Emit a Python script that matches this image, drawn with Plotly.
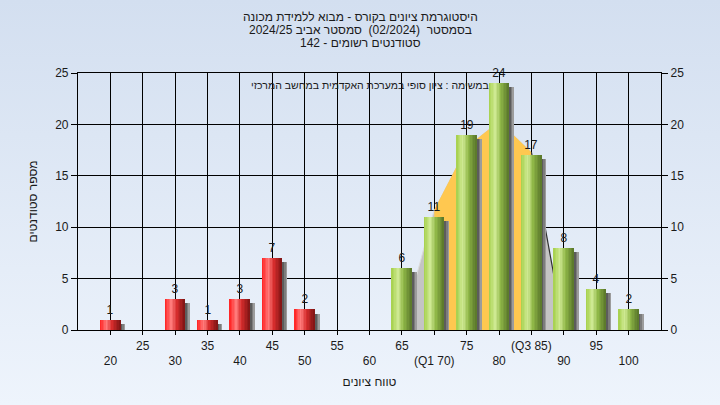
import base64
import numpy as np
import plotly.graph_objects as go

# ---------------- data ----------------
categories = [20, 25, 30, 35, 40, 45, 50, 55, 60, 65, 70, 75, 80, 85, 90, 95, 100]
counts = [1, 0, 3, 1, 3, 7, 2, 0, 0, 6, 11, 19, 24, 17, 8, 4, 2]
tick_labels = ['20', '25', '30', '35', '40', '45', '50', '55', '60', '65',
               '(Q1 70)', '75', '80', '(Q3 85)', '90', '95', '100']
curve_x = [65, 70, 75, 80, 85, 90]
curve_y = [0, 11.7, 17.8, 20.3, 17.3, 0]
q1, q3 = 70, 85
pass_mark = 55

title_lines = ["היסטוגרמת ציונים בקורס - מבוא ללמידת מכונה",
               "בסמסטר  (02/2024)  סמסטר אביב 2024/25",
               "סטודנטים רשומים - 142"]
note_text = "במשימה : ציון סופי במערכת האקדמית במחשב המרכזי"
x_title = "טווח ציונים"
y_title = "מספר סטודנטים"

FONT = "Liberation Sans, Arial, DejaVu Sans, sans-serif"
TXT = "#1a1a1a"

W_PX, H_PX = 720, 405
ML, MR, MT, MB = 78, 59, 73, 75
pw, ph = W_PX - ML - MR, H_PX - MT - MB

fig = go.Figure()

# ---------- background gradient image ----------
svg = ('<svg xmlns="http://www.w3.org/2000/svg" width="720" height="405" preserveAspectRatio="none">'
       '<defs><linearGradient id="g" x1="0" y1="0" x2="0" y2="1">'
       '<stop offset="0" stop-color="#d3dff0"/><stop offset="1" stop-color="#eef4fc"/>'
       '</linearGradient></defs><rect width="720" height="405" fill="url(#g)"/></svg>')
src = "data:image/svg+xml;base64," + base64.b64encode(svg.encode()).decode()

# ---------- distribution area (base subplot, drawn under the bars) ----------
fig.add_trace(go.Scatter(x=curve_x, y=curve_y, mode='lines', fill='tozeroy',
                         fillcolor='#c4c4c4', line=dict(width=0), hoverinfo='skip',
                         showlegend=False))
i1, i3 = curve_x.index(q1), curve_x.index(q3)
fig.add_trace(go.Scatter(x=curve_x[i1:i3 + 1], y=curve_y[i1:i3 + 1], mode='lines',
                         fill='tozeroy', fillcolor='#ffc850', line=dict(width=0),
                         hoverinfo='skip', showlegend=False))
fig.add_trace(go.Scatter(x=curve_x[:i1 + 1], y=curve_y[:i1 + 1], mode='lines',
                         line=dict(color='#dcdcdc', width=1), hoverinfo='skip',
                         showlegend=False))
fig.add_trace(go.Scatter(x=curve_x[i3:], y=curve_y[i3:], mode='lines',
                         line=dict(color='#303030', width=1.2), hoverinfo='skip',
                         showlegend=False))

# ---------- bars (cylinder look made of strips), on overlay axis y2 ----------
BW = 3.1  # bar width in data units
is_pass = [c > pass_mark for c in categories]

# soft drop shadows (slightly lower than the bar top, to the right)
shadow_y = [max(c - 0.4, 0) for c in counts]
for ext, col in [(0.75, '#9c9c9c'), (0.5, '#7c7c7c'), (0.28, '#5c5c5c')]:
    fig.add_trace(go.Bar(x=categories, y=shadow_y, width=BW / 2 + ext, offset=0,
                         marker=dict(color=col, line=dict(width=0)), yaxis='y2',
                         hoverinfo='skip', showlegend=False))

def profile(stops, t):
    pos = [s[0] for s in stops]
    r = np.interp(t, pos, [s[1][0] for s in stops])
    g = np.interp(t, pos, [s[1][1] for s in stops])
    b = np.interp(t, pos, [s[1][2] for s in stops])
    return 'rgb(%d,%d,%d)' % (r, g, b)

red_stops = [(0, (255, 30, 30)), (0.33, (255, 125, 125)), (0.6, (215, 45, 45)), (1, (125, 20, 20))]
green_stops = [(0, (165, 208, 75)), (0.33, (208, 234, 148)), (0.6, (145, 185, 72)), (1, (88, 118, 42))]

N = 14
sw = BW / N
for k in range(N):
    t = (k + 0.5) / N
    cr = profile(red_stops, t)
    cg = profile(green_stops, t)
    cols = [cg if p else cr for p in is_pass]
    fig.add_trace(go.Bar(x=categories, y=counts, width=sw * 1.08, offset=-BW / 2 + k * sw,
                         marker=dict(color=cols, line=dict(width=0)), yaxis='y2',
                         hoverinfo='skip', showlegend=False))

# value labels
labels = [str(v) if v > 0 else '' for v in counts]
fig.add_trace(go.Bar(x=categories, y=counts, width=BW, offset=-BW / 2,
                     marker=dict(color='rgba(0,0,0,0)', line=dict(width=0)),
                     text=labels, textposition='outside', cliponaxis=False,
                     textfont=dict(family=FONT, size=12, color=TXT),
                     yaxis='y2', hoverinfo='skip', showlegend=False))

stag = [t if i % 2 == 1 else ' <br>' + t for i, t in enumerate(tick_labels)]

title_y = [17, 30, 43]
annots = [dict(text=line, xref='paper', yref='paper',
               x=(360 - ML) / pw, y=(H_PX - MB - yy) / ph,
               xanchor='center', yanchor='middle', showarrow=False,
               font=dict(family=FONT, size=12, color=TXT))
          for line, yy in zip(title_lines, title_y)]
annots.append(dict(text=note_text, xref='paper', yref='paper',
                   x=0.5, y=(H_PX - MB - 85) / ph,
                   xanchor='center', yanchor='middle', showarrow=False,
                   font=dict(family=FONT, size=10.5, color=TXT)))

fig.update_layout(
    width=W_PX, height=H_PX,
    margin=dict(l=ML, r=MR, t=MT, b=MB),
    paper_bgcolor='#e2eaf6', plot_bgcolor='#b4b4b4',
    barmode='overlay', bargap=0,
    font=dict(family=FONT, size=12, color=TXT),
    xaxis=dict(range=[15, 105], tickvals=categories, ticktext=stag, tickangle=0,
               showgrid=True, gridcolor='black', gridwidth=1.2,
               ticks='outside', ticklen=4, tickcolor='black',
               showline=True, linecolor='black', linewidth=1.2, mirror=True,
               zeroline=False, tickfont=dict(size=12, color=TXT), automargin=False,
               title=dict(text=x_title, standoff=10, font=dict(size=12, color=TXT))),
    yaxis=dict(range=[0, 25], dtick=5, showgrid=True, gridcolor='black', gridwidth=1.2,
               ticks='outside', ticklen=6, tickcolor='black',
               showline=True, linecolor='black', linewidth=1.2, zeroline=False,
               tickfont=dict(size=12, color=TXT), automargin=False,
               title=dict(text=y_title, standoff=14, font=dict(size=12, color=TXT))),
    yaxis2=dict(range=[0, 25], dtick=5, overlaying='y', side='right', showgrid=False,
                ticks='outside', ticklen=6, tickcolor='black',
                showline=True, linecolor='black', linewidth=1.2, zeroline=False,
                tickfont=dict(size=12, color=TXT), automargin=False),
    images=[dict(source=src, xref='paper', yref='paper', x=-ML / pw, y=1 + MT / ph,
                 sizex=W_PX / pw, sizey=H_PX / ph, sizing='stretch', layer='below',
                 xanchor='left', yanchor='top')],
    annotations=annots,
)

fig.write_html("out.html", config={'displayModeBar': False},
               post_script="document.body.style.margin='0';")
